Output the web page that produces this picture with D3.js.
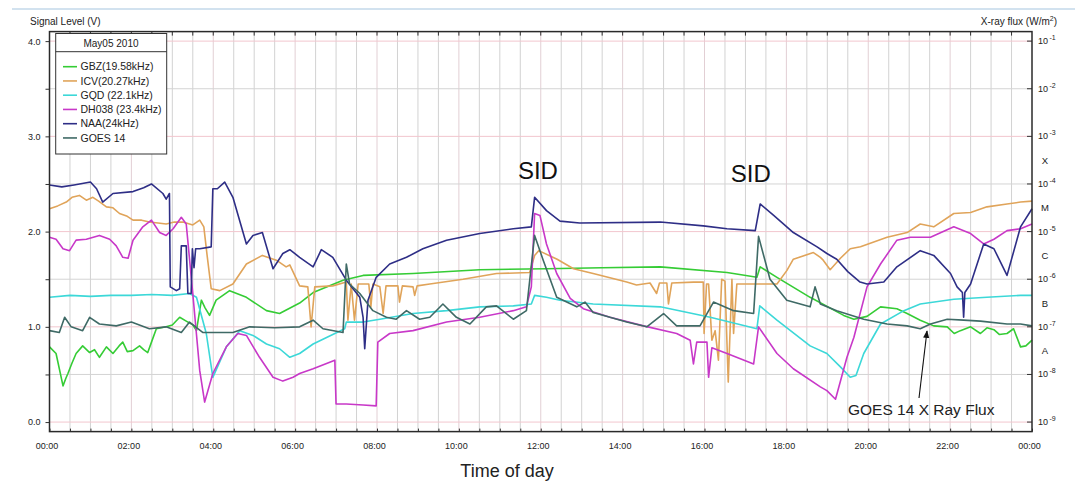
<!DOCTYPE html>
<html>
<head>
<meta charset="utf-8">
<script src="https://cdn.jsdelivr.net/npm/d3@7"></script>
<style>
  body { margin: 0; background: #fff; }
  svg { display: block; font-family: "Liberation Sans", Arial, sans-serif; }
</style>
</head>
<body>
<script>
// [hour of day, signal level V]
let gbz = [[0,0.79],[0.16,0.72],[0.33,0.38],[0.4,0.46],[0.45,0.51],[0.55,0.62],[0.65,0.72],[0.81,0.80],[0.98,0.73],[1.1,0.76],[1.22,0.68],[1.39,0.79],[1.55,0.72],[1.7,0.80],[1.79,0.84],[1.9,0.74],[2.04,0.75],[2.2,0.80],[2.3,0.76],[2.4,0.73],[2.5,0.85],[2.61,0.98],[2.85,1.00],[3.0,1.02],[3.18,1.10],[3.34,1.06],[3.5,1.02],[3.59,0.96],[3.71,1.28],[3.8,1.20],[3.91,1.12],[4.07,1.28],[4.4,1.38],[4.81,1.31],[5.3,1.17],[5.62,1.14],[6.11,1.25],[6.44,1.36],[7.17,1.49],[7.66,1.54],[8.88,1.56],[10.51,1.60],[12.14,1.61],[13.5,1.62],[14.92,1.63],[16.55,1.57],[17.28,1.52],[17.36,1.63],[17.77,1.52],[18.58,1.31],[19.4,1.12],[19.65,1.08],[19.97,1.11],[20.3,1.21],[20.7,1.19],[20.95,1.14],[21.27,1.07],[21.6,1.01],[21.93,1.00],[22.1,0.93],[22.25,0.96],[22.5,1.00],[22.74,0.93],[22.9,0.99],[23.07,0.97],[23.2,0.92],[23.39,0.93],[23.55,0.98],[23.72,0.79],[23.85,0.80],[24,0.86]];
let icv = [[0,2.24],[0.2,2.27],[0.41,2.31],[0.55,2.36],[0.73,2.38],[0.9,2.33],[1.06,2.36],[1.2,2.32],[1.39,2.26],[1.55,2.25],[1.71,2.19],[1.9,2.16],[2.04,2.12],[2.25,2.12],[2.44,2.10],[2.65,2.09],[2.85,2.08],[3.05,2.10],[3.26,2.10],[3.5,2.07],[3.67,2.12],[3.77,2.05],[3.85,1.75],[3.95,1.40],[4.16,1.38],[4.48,1.45],[4.81,1.66],[5.2,1.75],[5.54,1.70],[5.78,1.63],[5.87,1.65],[6.11,1.43],[6.31,1.42],[6.39,1.00],[6.48,1.42],[6.92,1.43],[7.25,1.47],[7.29,1.07],[7.37,1.45],[7.45,1.07],[7.54,1.45],[7.8,1.45],[7.85,1.21],[7.9,1.45],[8.07,1.42],[8.15,1.14],[8.22,1.43],[8.51,1.43],[8.55,1.26],[8.62,1.43],[8.88,1.42],[8.92,1.33],[8.98,1.43],[9.29,1.45],[10.1,1.50],[10.92,1.56],[11.73,1.57],[11.85,1.75],[11.95,1.80],[12.4,1.71],[12.8,1.61],[13.28,1.56],[14.1,1.47],[14.34,1.44],[14.67,1.46],[14.83,1.35],[14.9,1.46],[15.08,1.46],[15.12,1.24],[15.2,1.46],[15.73,1.47],[15.97,1.47],[15.99,0.93],[16.05,1.45],[16.1,1.45],[16.18,0.86],[16.26,0.96],[16.34,0.65],[16.42,1.50],[16.5,1.48],[16.58,0.42],[16.67,1.50],[16.71,0.93],[16.79,1.45],[17.36,1.45],[17.77,1.45],[18.01,1.59],[18.17,1.71],[18.66,1.78],[18.83,1.73],[18.9,1.70],[19.07,1.60],[19.32,1.72],[19.56,1.82],[19.81,1.84],[20.46,1.94],[20.95,1.99],[21.27,2.08],[21.6,2.05],[22.09,2.19],[22.5,2.20],[22.9,2.26],[23.39,2.29],[23.72,2.31],[24,2.32]];
let gqd = [[0,1.31],[0.5,1.33],[1,1.32],[1.5,1.33],[2,1.33],[2.5,1.34],[3,1.33],[3.42,1.35],[3.59,1.31],[3.83,0.93],[3.99,0.47],[4.32,0.79],[4.65,0.96],[4.97,0.91],[5.3,0.82],[5.62,0.77],[5.87,0.68],[6.11,0.72],[6.44,0.82],[7.21,0.98],[7.25,1.05],[7.66,1.05],[8.07,1.08],[8.88,1.14],[9.7,1.17],[10.51,1.21],[11.33,1.22],[11.77,1.24],[11.85,1.33],[12.14,1.31],[12.47,1.28],[13.28,1.24],[14.92,1.21],[16.14,1.10],[17.28,0.98],[17.35,1.22],[17.77,1.07],[18.58,0.80],[18.99,0.72],[19.32,0.58],[19.56,0.47],[19.7,0.49],[19.89,0.72],[20.3,1.03],[20.87,1.17],[21.27,1.24],[22.09,1.29],[22.9,1.31],[23.72,1.33],[24,1.33]];
let dh038 = [[0,1.94],[0.16,1.92],[0.33,1.82],[0.49,1.80],[0.65,1.91],[0.9,1.92],[1.22,1.96],[1.47,1.92],[1.63,1.85],[1.79,1.73],[1.92,1.72],[2.04,1.91],[2.28,2.05],[2.49,2.12],[2.69,1.99],[2.85,1.96],[3.02,2.03],[3.22,2.15],[3.34,2.08],[3.5,1.35],[3.67,0.54],[3.79,0.21],[3.99,0.51],[4.32,0.79],[4.6,0.93],[4.81,0.91],[5.13,0.68],[5.46,0.47],[5.7,0.43],[5.95,0.47],[6.11,0.51],[6.44,0.56],[6.97,0.65],[7.0,0.19],[7.25,0.19],[7.66,0.18],[7.98,0.17],[8.02,0.84],[8.31,0.93],[8.88,0.96],[9.7,1.05],[10.51,1.10],[11.33,1.17],[11.65,1.21],[11.77,1.42],[11.85,2.19],[11.98,2.17],[12.14,1.87],[12.39,1.56],[12.72,1.30],[13.04,1.19],[13.69,1.10],[14.51,1.01],[15.32,0.93],[15.65,0.86],[15.73,0.61],[15.81,0.84],[16.06,0.84],[16.1,0.47],[16.18,0.78],[16.55,0.72],[17.2,0.61],[17.32,1.00],[17.77,0.72],[18.17,0.56],[18.83,0.37],[18.99,0.33],[19.2,0.24],[19.48,0.68],[19.65,0.89],[19.97,1.42],[20.3,1.66],[20.7,1.91],[21.03,1.94],[21.52,1.94],[22.09,2.05],[22.5,1.98],[22.82,1.87],[23.07,1.92],[23.39,2.01],[23.72,2.03],[24,2.08]];
let naa = [[0,2.49],[0.3,2.47],[0.6,2.49],[1.0,2.52],[1.15,2.45],[1.3,2.31],[1.55,2.40],[2.04,2.42],[2.3,2.46],[2.49,2.50],[2.77,2.40],[2.85,2.34],[2.93,2.40],[2.95,1.42],[3.1,1.38],[3.18,1.40],[3.22,1.85],[3.34,1.85],[3.38,1.35],[3.46,1.35],[3.49,1.82],[3.53,1.62],[3.57,1.82],[3.67,1.82],[3.95,1.84],[3.99,2.45],[4.1,2.45],[4.28,2.52],[4.48,2.36],[4.81,1.87],[4.97,1.96],[5.2,1.99],[5.46,1.61],[5.7,1.77],[5.87,1.81],[6.11,1.73],[6.44,1.63],[6.64,1.81],[6.92,1.73],[7.25,1.49],[7.58,1.31],[7.66,1.10],[7.7,0.77],[7.78,1.28],[7.98,1.52],[8.31,1.66],[8.72,1.73],[9.12,1.82],[9.7,1.91],[10.51,1.98],[11.33,2.03],[11.77,2.05],[11.85,2.36],[12.14,2.22],[12.47,2.11],[12.95,2.09],[14.92,2.10],[15.97,2.06],[16.55,2.03],[17.24,2.01],[17.36,2.29],[17.69,2.17],[18.17,1.99],[18.75,1.84],[18.99,1.77],[19.23,1.71],[19.5,1.58],[19.8,1.47],[19.97,1.45],[20.38,1.47],[20.7,1.63],[21.27,1.80],[21.6,1.75],[22.01,1.56],[22.17,1.42],[22.3,1.36],[22.33,1.10],[22.36,1.36],[22.5,1.45],[22.82,1.87],[23.07,1.82],[23.39,1.54],[23.72,2.05],[24,2.24]];
let goes14 = [[0,0.96],[0.24,0.94],[0.37,1.10],[0.53,1.00],[0.81,0.96],[0.98,1.10],[1.22,1.03],[1.63,1.01],[2.0,1.05],[2.44,0.98],[2.85,1.00],[3.22,0.94],[3.42,1.05],[3.75,0.94],[4.48,0.94],[4.89,1.00],[5.5,0.99],[6.11,1.00],[6.44,1.07],[6.68,0.98],[7.17,0.94],[7.25,1.66],[7.33,1.45],[7.58,1.35],[7.9,1.17],[8.23,1.10],[8.47,1.08],[8.72,1.17],[9.04,1.08],[9.29,1.10],[9.61,1.24],[9.94,1.10],[10.27,1.03],[10.67,1.21],[10.92,1.22],[11.33,1.08],[11.65,1.17],[11.85,1.96],[12.06,1.70],[12.39,1.31],[12.88,1.21],[13.08,1.26],[13.28,1.15],[14.1,1.05],[14.59,1.00],[15.0,1.14],[15.32,1.01],[15.89,1.01],[16.22,1.26],[16.71,1.17],[17.2,1.14],[17.32,1.95],[17.6,1.50],[18.01,1.28],[18.58,1.21],[18.7,1.42],[18.83,1.24],[19.23,1.17],[19.89,1.08],[20.46,1.03],[20.95,1.01],[21.27,0.98],[21.52,1.03],[21.93,1.08],[22.33,1.07],[22.74,1.06],[23.39,1.03],[23.72,1.03],[24,1.01]];

let seriesData = [gbz, icv, gqd, dh038, naa, goes14];
let seriesNames = ["GBZ(19.58kHz)", "ICV(20.27kHz)", "GQD (22.1kHz)", "DH038 (23.4kHz)", "NAA(24kHz)", "GOES 14"];
let seriesColors = ["#35cc35", "#e0a45a", "#3cd8d8", "#c838c8", "#2e2e86", "#3f6a66"];

let hourTicks = d3.range(0, 24.5, 2);
let hourLabels = ["00:00", "02:00", "04:00", "06:00", "08:00", "10:00", "12:00", "14:00", "16:00", "18:00", "20:00", "22:00", "00:00"];
let voltTicks = [0, 1, 2, 3, 4];
let voltLabels = ["0.0", "1.0", "2.0", "3.0", "4.0"];
let fluxExps = [-1, -2, -3, -4, -5, -6, -7, -8, -9];
let flareClasses = ["X", "M", "C", "B", "A"];
let legendTitle = "May05 2010";

let W = 1075, H = 482;
let pl = 49.5, pr = 1032, pt = 31.6, pb = 431.6;

let svg = d3.select("body").append("svg").attr("width", W).attr("height", H);

let x = d3.scaleLinear().domain([0, 24]).range([pl, pr]);
let y = d3.scaleLinear().domain([-0.1, 4.1]).range([pb, pt]);
// flux axis: 10^-9 sits on 0 V, each decade is 0.5 V
let yFlux = d3.scaleLog().domain([Math.pow(10, -9.2), Math.pow(10, -0.8)]).range([pb, pt]);

// thin blue rule at the very top
svg.append("line").attr("x1", 12).attr("x2", W).attr("y1", 9).attr("y2", 9)
    .attr("stroke", "#c3d8ea").attr("stroke-width", 1.5);

// grid
let grid = svg.append("g");
grid.selectAll(".vg").data(d3.range(0.5, 24, 0.5)).join("line")
    .attr("x1", d => x(d)).attr("x2", d => x(d)).attr("y1", pt).attr("y2", pb)
    .attr("stroke", d => d % 2 === 0 ? "#e2cfd4" : "#d2d2d2").attr("stroke-width", 1);
grid.selectAll(".hg").data(d3.range(0, 4.01, 0.5)).join("line")
    .attr("x1", pl).attr("x2", pr).attr("y1", d => y(d)).attr("y2", d => y(d))
    .attr("stroke", d => d % 1 === 0 ? "#f2c6ce" : "#d4d4d4").attr("stroke-width", 1);

// series
let line = d3.line().x(d => x(d[0])).y(d => y(d[1]));
seriesData.forEach((s, i) => {
    svg.append("path").datum(s).attr("d", line)
        .attr("fill", "none").attr("stroke", seriesColors[i]).attr("stroke-width", 1.6)
        .attr("stroke-linejoin", "round");
});

// bottom axis, ticks point inward
let xAxis = d3.axisBottom(x).tickValues(d3.range(0, 24.01, 0.5)).tickSize(-3).tickFormat(d => {
    let k = hourTicks.indexOf(d);
    return k >= 0 ? hourLabels[k] : "";
});
let gx = svg.append("g").attr("transform", `translate(0,${pb})`).call(xAxis);
gx.select(".domain").remove();
gx.selectAll(".tick line").attr("stroke", "#333");
gx.selectAll("text").attr("dy", 0).attr("y", 17).attr("dx", -3)
    .attr("font-size", 9).attr("fill", "#222").attr("font-family", "Liberation Sans, Arial, sans-serif");

// top inward ticks
svg.append("g").selectAll("line").data(d3.range(0.5, 24, 0.5)).join("line")
    .attr("x1", d => x(d)).attr("x2", d => x(d)).attr("y1", pt).attr("y2", pt + 4)
    .attr("stroke", "#333");

// left axis
let yAxis = d3.axisLeft(y).tickValues(d3.range(0, 4.01, 0.5)).tickSize(4).tickFormat(d => {
    let k = voltTicks.indexOf(d);
    return k >= 0 ? voltLabels[k] : "";
});
let gy = svg.append("g").attr("transform", `translate(${pl},0)`).call(yAxis);
gy.select(".domain").remove();
gy.selectAll(".tick line").attr("stroke", "#333");
gy.selectAll("text").attr("x", -9).attr("font-size", 9).attr("fill", "#222")
    .attr("font-family", "Liberation Sans, Arial, sans-serif");

// right flux axis
let gr = svg.append("g");
fluxExps.forEach(e => {
    let yy = yFlux(Math.pow(10, e));
    gr.append("line").attr("x1", pr - 5).attr("x2", pr).attr("y1", yy).attr("y2", yy).attr("stroke", "#333");
    let t = gr.append("text").attr("x", pr + 6).attr("y", yy + 3).attr("font-size", 9).attr("fill", "#222");
    t.append("tspan").text("10");
    t.append("tspan").attr("dx", 1.5).attr("dy", -4).attr("font-size", 7).text(String(e));
});
flareClasses.forEach((c, i) => {
    let yy = yFlux(Math.pow(10, -3.5 - i));
    gr.append("text").attr("x", pr + 13).attr("y", yy + 3.5).attr("text-anchor", "middle")
        .attr("font-size", 9.5).attr("fill", "#222").text(c);
});

// frame
svg.append("rect").attr("x", pl).attr("y", pt).attr("width", pr - pl).attr("height", pb - pt)
    .attr("fill", "none").attr("stroke", "#2a2a2a").attr("stroke-width", 1.5);

// axis titles
svg.append("text").attr("x", 30).attr("y", 25).attr("font-size", 10).attr("fill", "#222").text("Signal Level (V)");
let ft = svg.append("text").attr("x", 1057).attr("y", 25).attr("text-anchor", "end").attr("font-size", 10).attr("fill", "#222");
ft.append("tspan").text("X-ray flux (W/m");
ft.append("tspan").attr("dy", -4).attr("font-size", 7).text("2");
ft.append("tspan").attr("dy", 4).text(")");
svg.append("text").attr("x", 507).attr("y", 477).attr("text-anchor", "middle").attr("font-size", 18)
    .attr("fill", "#222").text("Time of day");

// legend
let lg = svg.append("g");
lg.append("rect").attr("x", 55.7).attr("y", 33.5).attr("width", 111).attr("height", 120.5)
    .attr("fill", "#fff").attr("stroke", "#333").attr("stroke-width", 1);
lg.append("line").attr("x1", 55.7).attr("x2", 166.7).attr("y1", 51.7).attr("y2", 51.7).attr("stroke", "#333");
lg.append("text").attr("x", 111).attr("y", 47).attr("text-anchor", "middle").attr("font-size", 10)
    .attr("fill", "#222").text(legendTitle);
seriesNames.forEach((n, i) => {
    let yy = 66.7 + i * 14.25;
    lg.append("line").attr("x1", 63).attr("x2", 77).attr("y1", yy).attr("y2", yy)
        .attr("stroke", seriesColors[i]).attr("stroke-width", 1.6);
    lg.append("text").attr("x", 80.5).attr("y", yy + 3.6).attr("font-size", 10.5).attr("fill", "#222").text(n);
});

// annotations
svg.append("text").attr("x", x(11.93)).attr("y", 179).attr("text-anchor", "middle").attr("font-size", 24).attr("fill", "#111").text("SID");
svg.append("text").attr("x", x(17.13)).attr("y", 182).attr("text-anchor", "middle").attr("font-size", 24).attr("fill", "#111").text("SID");
svg.append("text").attr("x", 848).attr("y", 415).attr("font-size", 15.5).attr("fill", "#222").text("GOES 14 X Ray Flux");

svg.append("defs").append("marker").attr("id", "ah").attr("viewBox", "0 0 10 10")
    .attr("refX", 9).attr("refY", 5).attr("markerWidth", 7).attr("markerHeight", 7).attr("orient", "auto")
    .append("path").attr("d", "M0,1 L10,5 L0,9 z").attr("fill", "#111");
svg.append("line").attr("x1", 919).attr("y1", 398).attr("x2", 927).attr("y2", 331)
    .attr("stroke", "#111").attr("stroke-width", 1.1).attr("marker-end", "url(#ah)");
</script>
</body>
</html>
